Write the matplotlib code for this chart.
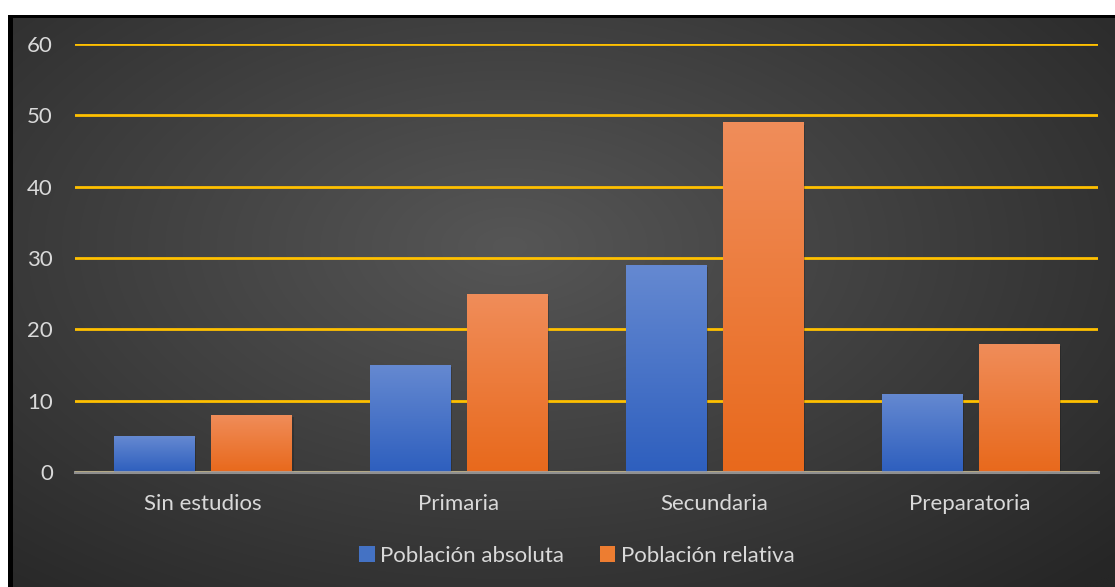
import numpy as np
import matplotlib
matplotlib.use("Agg")
import matplotlib.pyplot as plt
from matplotlib.patches import Rectangle, Patch
from matplotlib.colors import LinearSegmentedColormap
import matplotlib.patheffects as pe

categories = ["Sin estudios", "Primaria", "Secundaria", "Preparatoria"]
absoluta = [5, 15, 29, 11]
relativa = [8, 25, 49, 18]
series_names = ["Población absoluta", "Población relativa"]
yticks = [0, 10, 20, 30, 40, 50, 60]

plt.rcParams['font.family'] = ['Lato', 'DejaVu Sans']
W, H = 1115, 587
fig = plt.figure(figsize=(W / 100, H / 100), dpi=100)
fig.patch.set_facecolor('white')

# background radial gradient
bg = fig.add_axes([13 / W, 0, 1 - 13 / W, 1 - 18 / H])
bg.set_axis_off()
yy, xx = np.mgrid[0:300, 0:600]
cx, cy = 270, 120
r = np.sqrt(((xx - cx) / 600) ** 2 + ((yy - cy) / 330) ** 2)
r = np.clip(r / 0.75, 0, 1)
c_in = np.array([0x56, 0x56, 0x56]) / 255
c_out = np.array([0x26, 0x26, 0x26]) / 255
img = c_in[None, None, :] * (1 - r[..., None]) + c_out[None, None, :] * r[..., None]
bg.imshow(img, aspect='auto', extent=(0, 1, 0, 1), interpolation='bilinear')
bg.set_xlim(0, 1); bg.set_ylim(0, 1)

# borders
fig.patches.append(Rectangle((8 / W, 0), 5 / W, 1 - 15 / H, transform=fig.transFigure,
                             facecolor='black', edgecolor='none', zorder=5))
fig.patches.append(Rectangle((8 / W, 1 - 18 / H), 1 - 8 / W, 3 / H, transform=fig.transFigure,
                             facecolor='black', edgecolor='none', zorder=5))

ax = fig.add_axes([75 / W, 1 - 472 / H, (1098 - 75) / W, (472 - 44) / H])
ax.set_facecolor('none')
for s in ax.spines.values():
    s.set_visible(False)
ax.set_xlim(-0.5, 3.5)
ax.set_ylim(0, 60)
ax.set_yticks(yticks)
ax.set_axisbelow(True)
ax.yaxis.grid(True, color='#FFC000', linewidth=2)
ax.xaxis.grid(False)

x = np.arange(len(categories))
w = 0.313
off = 0.19
b1 = ax.bar(x - off, absoluta, w, color='#4472C4', zorder=2, label=series_names[0])
b2 = ax.bar(x + off, relativa, w, color='#ED7D31', zorder=2, label=series_names[1])

shadow = [pe.SimplePatchShadow(offset=(1.5, -1.5), shadow_rgbFace='black', alpha=0.18), pe.Normal()]
cm_blue = LinearSegmentedColormap.from_list('b', ['#2E5FBE', '#6589D1'])
cm_or = LinearSegmentedColormap.from_list('o', ['#E8691C', '#F08D5A'])
grad = np.linspace(0, 1, 256).reshape(-1, 1)
for bars, cm in ((b1, cm_blue), (b2, cm_or)):
    for p in bars:
        p.set_path_effects(shadow)
        x0 = p.get_x(); x1 = x0 + p.get_width(); h = p.get_height()
        im = ax.imshow(grad, cmap=cm, aspect='auto', extent=(x0, x1, 0, h),
                       origin='lower', zorder=2.5)
        im.set_clip_path(p)
ax.set_xlim(-0.5, 3.5)
ax.set_ylim(0, 60)

ax.axhline(0, color='#A6A6A6', linewidth=2.2, alpha=0.8, zorder=3, clip_on=False)

ax.set_xticks(x)
ax.set_xticklabels(categories)
ax.tick_params(axis='both', length=0, colors='#D9D9D9', labelsize=16)
ax.tick_params(axis='y', pad=16)
ax.tick_params(axis='x', pad=16)

handles = [Patch(facecolor='#4472C4'), Patch(facecolor='#ED7D31')]
leg = fig.legend(handles, series_names, loc='center', bbox_to_anchor=(577 / W, 1 - 556 / H),
                 ncol=2, frameon=False, fontsize=16, handlelength=0.7, handleheight=0.7,
                 handletextpad=0.25, columnspacing=1.6)
for t in leg.get_texts():
    t.set_color('#D9D9D9')

fig.savefig('out.png', dpi=100, facecolor='white')
